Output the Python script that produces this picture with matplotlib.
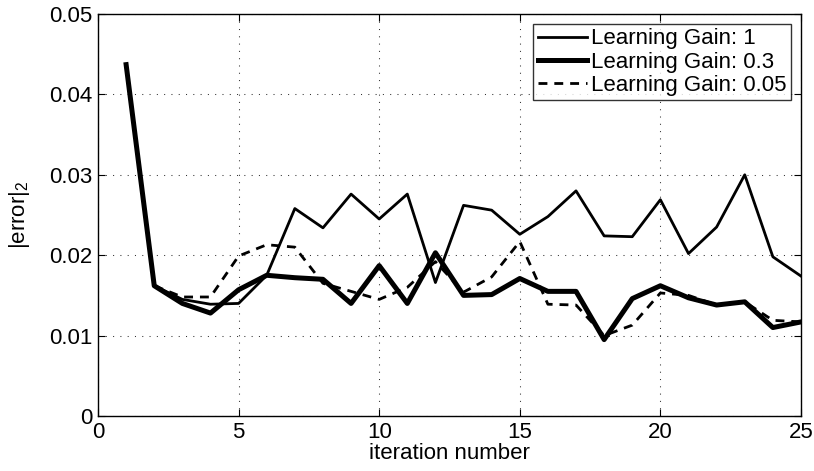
import numpy as np
import matplotlib
matplotlib.use("Agg")
import matplotlib.pyplot as plt

plt.rcParams['font.family'] = ['Liberation Sans', 'DejaVu Sans']
plt.rcParams['mathtext.fontset'] = 'custom'
plt.rcParams['mathtext.rm'] = 'Liberation Sans'
plt.rcParams['mathtext.it'] = 'Liberation Sans'

iters = np.arange(1, 26)
gain_1 = [0.0435, 0.0162, 0.0145, 0.0139, 0.0140, 0.0175, 0.0258, 0.0234, 0.0276, 0.0245,
          0.0276, 0.0166, 0.0262, 0.0256, 0.0226, 0.0248, 0.0280, 0.0224, 0.0223, 0.0269,
          0.0202, 0.0235, 0.0300, 0.0198, 0.0174]
gain_03 = [0.0437, 0.0162, 0.0140, 0.0128, 0.0157, 0.0175, 0.0172, 0.0170, 0.0140, 0.0187,
           0.0140, 0.0203, 0.0150, 0.0151, 0.0171, 0.0155, 0.0155, 0.0095, 0.0146, 0.0162,
           0.0147, 0.0138, 0.0142, 0.0110, 0.0117]
gain_005 = [0.0435, 0.0162, 0.0148, 0.0148, 0.0199, 0.0213, 0.0210, 0.0165, 0.0155, 0.0145,
            0.0160, 0.0192, 0.0154, 0.0173, 0.0217, 0.0139, 0.0138, 0.0100, 0.0113, 0.0153,
            0.0150, 0.0138, 0.0142, 0.0119, 0.0117]
labels = ['Learning Gain: 1', 'Learning Gain: 0.3', 'Learning Gain: 0.05']

fig = plt.figure(figsize=(8.14, 4.71), dpi=100)
ax = fig.add_axes([0.1204, 0.1168, 0.8636, 0.8535])

ax.plot(iters, gain_1, color='black', lw=2.0, label=labels[0])
ax.plot(iters, gain_03, color='black', lw=3.6, label=labels[1])
ax.plot(iters, gain_005, color='black', lw=2.0, ls=(0, (3.2, 2.5)), label=labels[2])

ax.set_xlim(0, 25)
ax.set_ylim(0, 0.05)
ax.set_xticks([0, 5, 10, 15, 20, 25])
ax.set_yticks([0, 0.01, 0.02, 0.03, 0.04, 0.05])
ax.set_yticklabels(['0', '0.01', '0.02', '0.03', '0.04', '0.05'])
ax.tick_params(direction='in', top=True, right=True, labelsize=16, length=5, pad=4)
ax.grid(True, color='#333333', ls=(0, (1, 6)), lw=0.75)
for s in ax.spines.values():
    s.set_linewidth(1.0)

ax.set_xlabel('iteration number', fontsize=16, labelpad=0.5)
ax.set_ylabel(r'|error|$_2$', fontsize=16, labelpad=12)

leg = ax.legend(loc='upper right', fontsize=16, frameon=True, fancybox=False,
                edgecolor='black', borderpad=0.2, labelspacing=0.1,
                handlelength=2.2, handletextpad=0.2, borderaxespad=0.45)
leg.get_frame().set_linewidth(1.0)

fig.savefig('out.png', dpi=100)
